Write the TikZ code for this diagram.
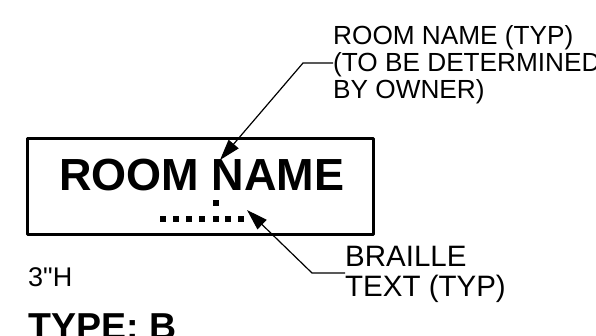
\documentclass[tikz,border=0pt]{standalone}
\usepackage{fontspec}
\newfontfamily\hv{Liberation Sans}
\usetikzlibrary{arrows.meta}
\tikzset{
  lbl/.style={inner sep=0pt,anchor=base west,font=\hv\fontsize{26.2}{26.7}\selectfont},
  lblb/.style={inner sep=0pt,anchor=base west,font=\hv\fontsize{29.5}{30}\selectfont},
  lblh/.style={inner sep=0pt,anchor=base west,font=\hv\fontsize{27}{30}\selectfont},
  big/.style={inner sep=0pt,anchor=base west,font=\hv\fontsize{45}{50}\selectfont\bfseries},
  typ/.style={inner sep=0pt,anchor=base west,font=\hv\fontsize{37.5}{40}\selectfont\bfseries},
  sign/.style={draw=black,line width=3pt,line join=round,rectangle,minimum width=346pt,minimum height=96pt,inner sep=0pt},
  leader/.style={draw=black,line width=1.2pt,line join=miter,-{Triangle[length=21pt,width=13pt]}},
  dotb/.style={fill=black,minimum size=6pt,inner sep=0pt,draw=none,rectangle}
}
\begin{document}
\begin{tikzpicture}[x=1pt,y=-1pt]
\useasboundingbox (0,0) rectangle (596,336);
\clip (0,0) rectangle (596,336);
\node[sign] (box) at (200.5,186.5) {};
\node[big] (room) at (59,191) {ROOM NAME};
\foreach \n/\x in {a/163,b/176,c/189,d/202,e/216,f/228,g/241}{
  \node[dotb] (dot\n) at (\x,219) {};
}
\node[dotb] (dotu) at (216,203) {};
\node[lbl] (l1) at (333,45) {ROOM NAME (TYP)};
\node[lbl] (l2) at (333,71.7) {(TO BE DETERMINED};
\node[lbl] (l3) at (333,98.4) {BY OWNER)};
\node[lblb] (b1) at (345,266) {BRAILLE};
\node[lblb] (b2) at (345,296) {TEXT (TYP)};
\node[lblh] (h) at (28,287) {3"H};
\node[typ] (t) at (28.5,339) {TYPE: B};
\coordinate (k1) at (303,63);
\coordinate (tip1) at (220,160);
\coordinate (k2) at (312,273);
\coordinate (tip2) at (247,210);
\draw[leader] (l2.west |- k1) -- (k1) -- (tip1);
\draw[leader] (b1.west |- k2) -- (k2) -- (tip2);
\end{tikzpicture}
\end{document}
